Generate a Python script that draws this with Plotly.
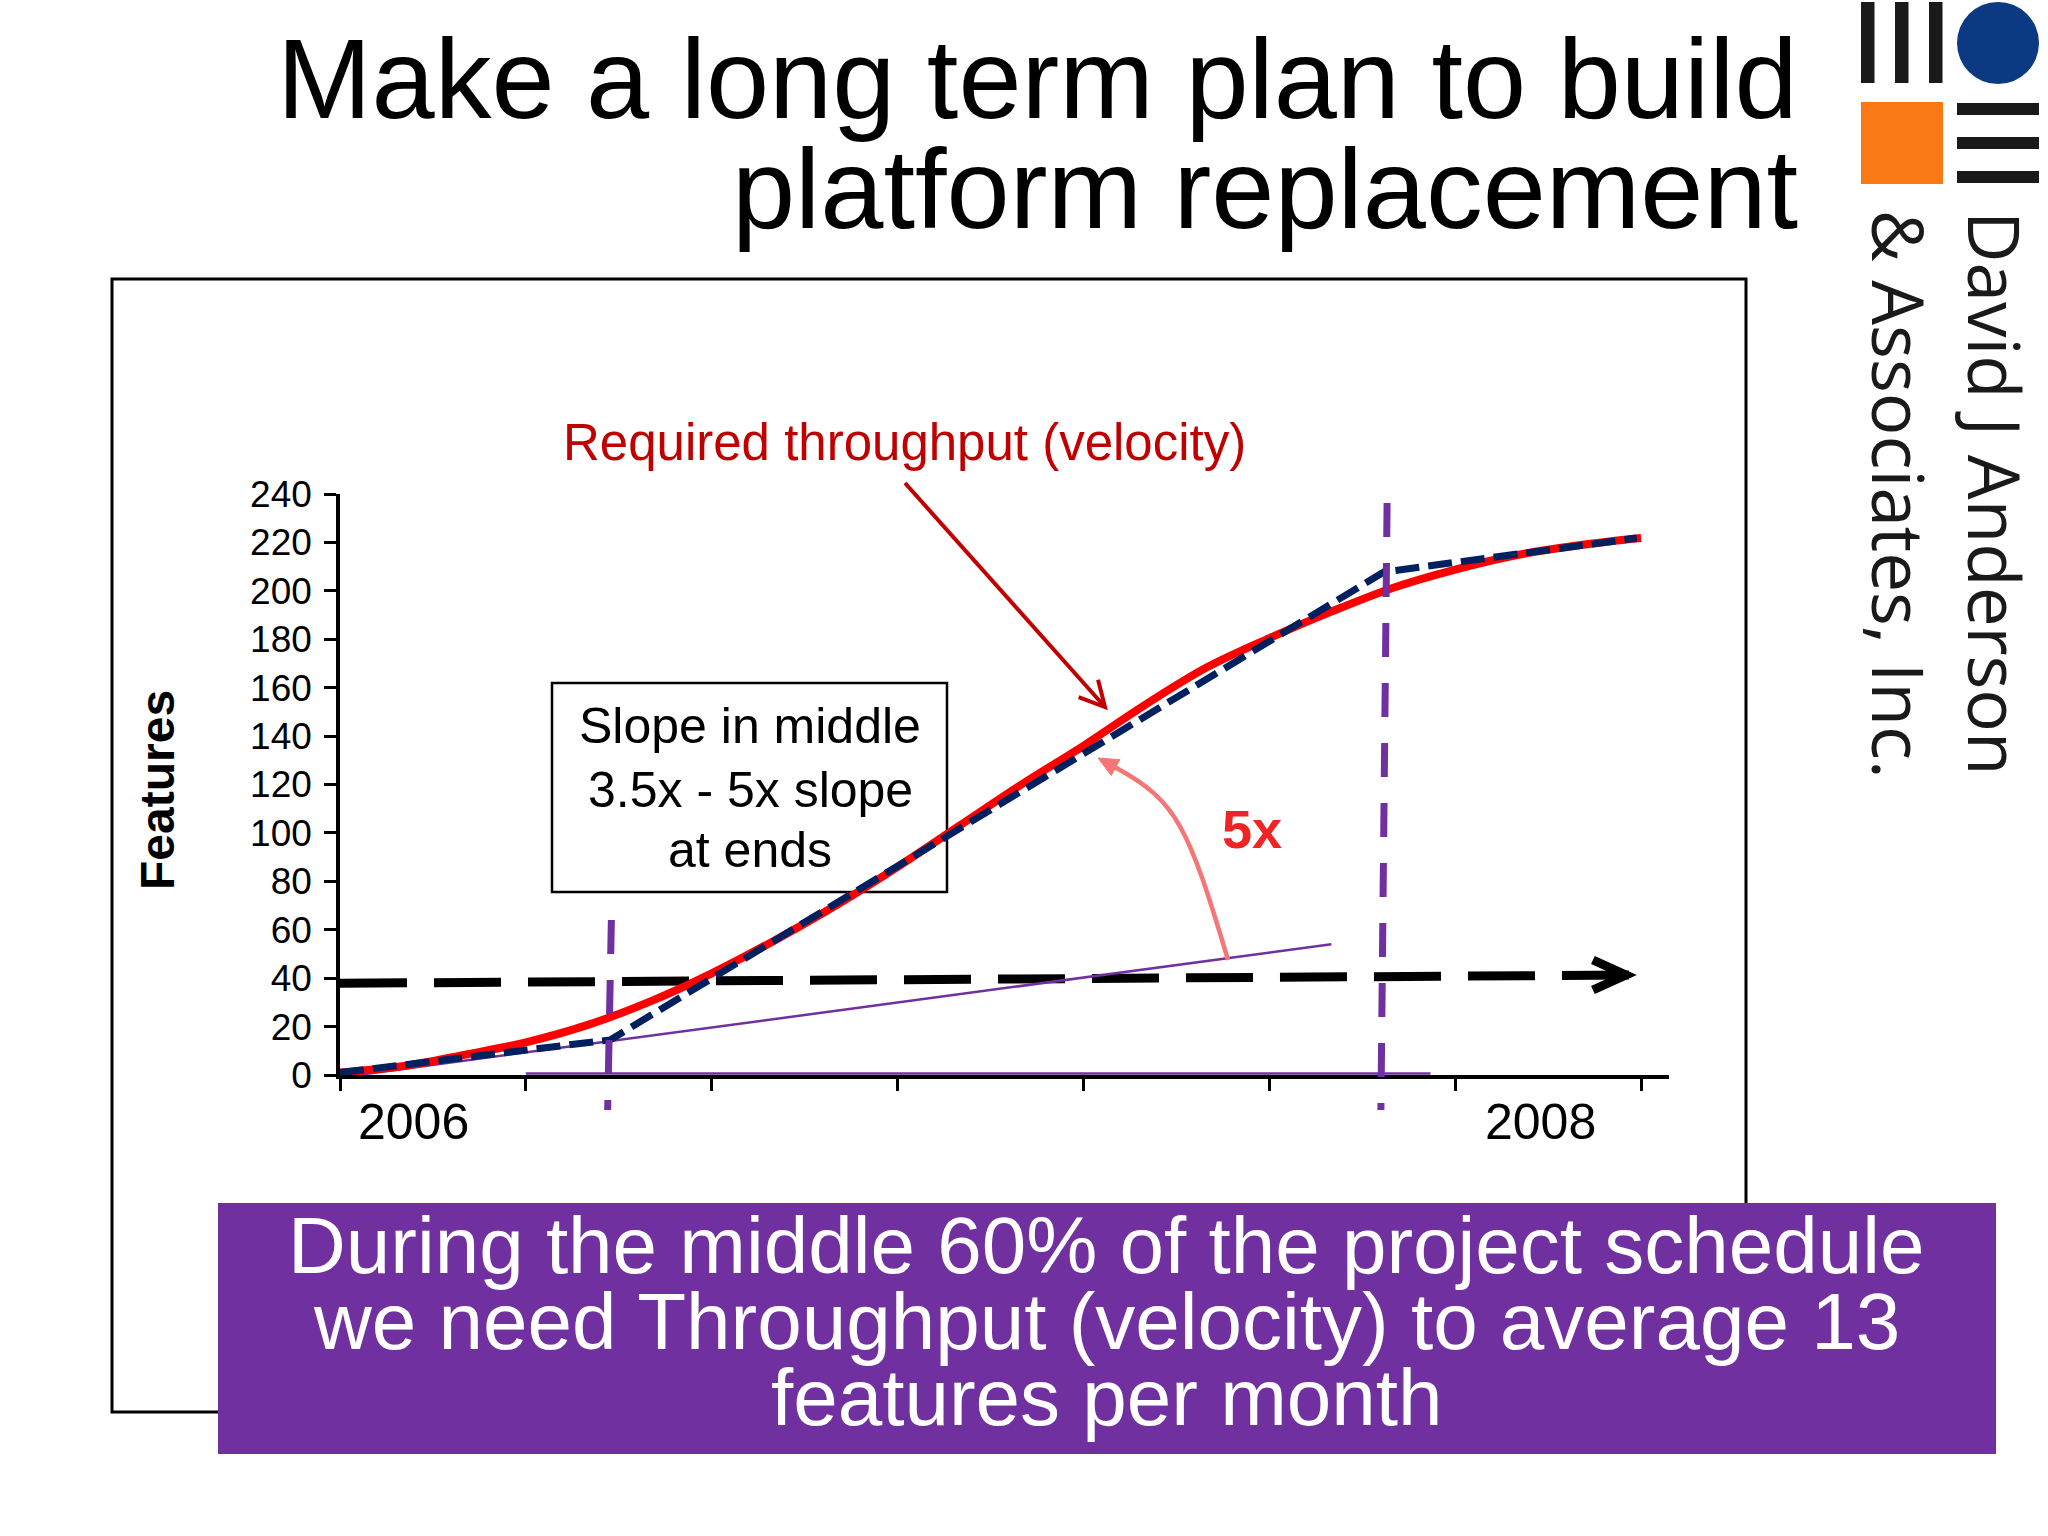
import plotly.graph_objects as go

# ---------------- data ----------------
months = list(range(0, 22))
required_features = [1, 3.6, 8.3, 13.5, 20.7, 30.3, 42, 55.4, 70, 86, 103, 120,
                     136, 153, 168.5, 180.5, 191.4, 201.3, 208.8, 214.8, 218.8, 221.8]
plan_months = [0, 4.36, 16.85, 20.93]
plan_features = [1, 14.5, 207.8, 221.8]
early_slope_months = [0, 16.0]
early_slope_features = [-1, 54]
baseline_months = [3.0, 17.6]
baseline_features = [0.6, 0.6]
current_rate_months = [0, 20.9]
current_rate_features = [37.9, 41.3]
milestone_top = [4.38, 16.9]
milestone_bottom = [4.32, 16.8]
y_ticks = list(range(0, 241, 20))
x_ticks = list(range(0, 22, 3))
year_labels = ["2006", "2008"]
year_label_months = [1.18, 19.38]

# ---------------- geometry ----------------
W, H = 2048, 1536
ML, MR, MT, MB = 340, 379, 494, 461
PW, PH = W - ML - MR, H - MT - MB
XMAX, YMAX = 21.45, 240

FONT = "Liberation Sans, Arial, sans-serif"
PURPLE = "#7030A0"
NAVY = "#002060"
DARKRED = "#C00000"


def PX(x):
    return (x - ML) / PW


def PY(y):
    return (H - MB - y) / PH


def data_px(m):
    return ML + m / XMAX * PW


def data_py(v):
    return H - MB - v / YMAX * PH


def poly_path(points, close=False):
    s = "M " + " L ".join(f"{PX(x):.5f},{PY(y):.5f}" for x, y in points)
    return s + (" Z" if close else "")


fig = go.Figure()

fig.add_trace(go.Scatter(x=current_rate_months, y=current_rate_features, mode="lines",
                         line=dict(color="black", width=9, dash="67px,27px"),
                         hoverinfo="skip", showlegend=False))
fig.add_trace(go.Scatter(x=early_slope_months, y=early_slope_features, mode="lines",
                         line=dict(color=PURPLE, width=2.5), hoverinfo="skip", showlegend=False))
fig.add_trace(go.Scatter(x=baseline_months, y=baseline_features, mode="lines",
                         line=dict(color=PURPLE, width=2.5), hoverinfo="skip", showlegend=False))
fig.add_trace(go.Scatter(x=months, y=required_features, mode="lines",
                         line=dict(color="#FF0000", width=8, shape="spline"),
                         hoverinfo="skip", showlegend=False))
fig.add_trace(go.Scatter(x=plan_months, y=plan_features, mode="lines",
                         line=dict(color=NAVY, width=7, dash="24px,9px"),
                         hoverinfo="skip", showlegend=False))

shapes = []
# outer frame
shapes.append(dict(type="rect", xref="paper", yref="paper", x0=PX(112), y0=PY(279), x1=PX(1746), y1=PY(1412),
                   line=dict(color="black", width=3), fillcolor="rgba(0,0,0,0)", layer="below"))
# text box
shapes.append(dict(type="rect", xref="paper", yref="paper", x0=PX(552), y0=PY(683), x1=PX(947), y1=PY(892),
                   line=dict(color="black", width=2.5), fillcolor="rgba(0,0,0,0)", layer="below"))
# milestone lines
for top, bottom, ytop in zip(milestone_top, milestone_bottom, [920, 503]):
    shapes.append(dict(type="line", xref="x", yref="paper", x0=top, y0=PY(ytop), x1=bottom, y1=PY(1110),
                       line=dict(color=PURPLE, width=7, dash="34px,26px")))

# black arrow head (chevron) at end of current rate line (pulled back for the miter join)
tx, ty = data_px(current_rate_months[-1]) - 9, data_py(current_rate_features[-1])
shapes.append(dict(type="path", xref="paper", yref="paper",
                   path=poly_path([(tx - 33, ty - 15), (tx, ty), (tx - 33, ty + 15)]),
                   line=dict(color="black", width=9)))

# dark red arrow to the curve
tail = (905, 483)
tip = (1105, 707)
dx, dy = tip[0] - tail[0], tip[1] - tail[1]
ln = (dx * dx + dy * dy) ** 0.5
ux, uy = dx / ln, dy / ln
shapes.append(dict(type="path", xref="paper", yref="paper",
                   path=poly_path([tail, (tip[0] - 2 * ux, tip[1] - 2 * uy)]),
                   line=dict(color=DARKRED, width=4)))
bx, by = tip[0] - 25 * ux, tip[1] - 25 * uy
shapes.append(dict(type="path", xref="paper", yref="paper",
                   path=poly_path([(bx + 13 * uy, by - 13 * ux), tip, (bx - 13 * uy, by + 13 * ux)]),
                   line=dict(color=DARKRED, width=4)))

# pink curved arrow
p0 = (1228, 960)
c1 = (1188, 826)
c2 = (1177, 801)
p2 = (1098, 758)
ex, ey = p2[0] - c2[0], p2[1] - c2[1]
el = (ex * ex + ey * ey) ** 0.5
ex, ey = ex / el, ey / el
base = (p2[0] - 20 * ex, p2[1] - 20 * ey)
curve = (f"M {PX(p0[0]):.5f},{PY(p0[1]):.5f} C {PX(c1[0]):.5f},{PY(c1[1]):.5f} "
         f"{PX(c2[0]):.5f},{PY(c2[1]):.5f} {PX(base[0]):.5f},{PY(base[1]):.5f}")
shapes.append(dict(type="path", xref="paper", yref="paper", path=curve,
                   line=dict(color="#F47676", width=4.5)))
shapes.append(dict(type="path", xref="paper", yref="paper",
                   path=poly_path([p2, (base[0] - 9 * ey, base[1] + 9 * ex),
                                   (base[0] + 9 * ey, base[1] - 9 * ex)], close=True),
                   line=dict(color="#F47676", width=1), fillcolor="#F47676"))

# banner
shapes.append(dict(type="rect", xref="paper", yref="paper", x0=PX(218), y0=PY(1203), x1=PX(1996), y1=PY(1454),
                   line=dict(width=0), fillcolor=PURPLE))

# logo
for x0 in [1861, 1895, 1929]:
    shapes.append(dict(type="rect", xref="paper", yref="paper", x0=PX(x0), y0=PY(2), x1=PX(x0 + 13.5), y1=PY(83),
                       line=dict(width=0), fillcolor="#1A1A1A"))
shapes.append(dict(type="circle", xref="paper", yref="paper", x0=PX(1957), y0=PY(2), x1=PX(2039), y1=PY(84),
                   line=dict(width=0), fillcolor="#0B3A82"))
shapes.append(dict(type="rect", xref="paper", yref="paper", x0=PX(1861), y0=PY(102), x1=PX(1943), y1=PY(184),
                   line=dict(width=0), fillcolor="#F97A14"))
for y0 in [103, 137, 171]:
    shapes.append(dict(type="rect", xref="paper", yref="paper", x0=PX(1957), y0=PY(y0), x1=PX(2039), y1=PY(y0 + 12),
                       line=dict(width=0), fillcolor="#1A1A1A"))

ann = []


def text(x, y, s, size, color="black", anchor="center", bold=False, angle=0, family=FONT):
    ann.append(dict(x=PX(x), y=PY(y), xref="paper", yref="paper", text=f"<b>{s}</b>" if bold else s,
                    showarrow=False, xanchor=anchor, yanchor="middle", textangle=angle,
                    font=dict(family=family, size=size, color=color)))


text(1800, 78, "Make a long term plan to build", 113.5, anchor="right")
text(1800, 188, "platform replacement", 113.5, anchor="right")
text(904, 443, "Required throughput (velocity)", 51, color=DARKRED)
for yy, s in zip([726, 790, 850], ["Slope in middle", "3.5x - 5x slope", "at ends"]):
    text(750, yy, s, 50)
text(1252, 829, "5x", 54, color="#F02424", bold=True)
text(157, 790, "Features", 48, bold=True, angle=-90)
for lab, m in zip(year_labels, year_label_months):
    text(data_px(m), 1122, lab, 50)
for yy, s in zip([1245, 1321, 1397], ["During the middle 60% of the project schedule",
                                      "we need Throughput (velocity) to average 13",
                                      "features per month"]):
    text(1106, yy, s, 80, color="white")
text(1996, 494, "David J Anderson", 71, color="#1A1A1A", angle=90, family="Open Sans")
text(1900, 494, "&amp; Associates, Inc.", 71, color="#1A1A1A", angle=90, family="Open Sans")

fig.update_layout(
    width=W, height=H, margin=dict(l=ML, r=MR, t=MT, b=MB, pad=0),
    paper_bgcolor="white", plot_bgcolor="rgba(0,0,0,0)",
    showlegend=False, shapes=shapes, annotations=ann,
    xaxis=dict(range=[0, XMAX], tickvals=x_ticks, showticklabels=False, ticks="outside",
               ticklen=12, tickwidth=3, tickcolor="black", showline=True, linewidth=4,
               linecolor="black", showgrid=False, zeroline=False, layer="below traces", fixedrange=True),
    yaxis=dict(range=[0, YMAX], tickvals=y_ticks, ticks="outside", ticklen=12, tickwidth=3,
               tickcolor="black", showline=True, linewidth=3.5, linecolor="black", showgrid=False,
               zeroline=False, tickfont=dict(family=FONT, size=37, color="black"),
               ticklabelstandoff=5, layer="below traces", fixedrange=True),
)

fig.write_html("out.html", config={"displayModeBar": False},
               post_script="document.body.style.margin='0';document.body.style.overflow='hidden';")
